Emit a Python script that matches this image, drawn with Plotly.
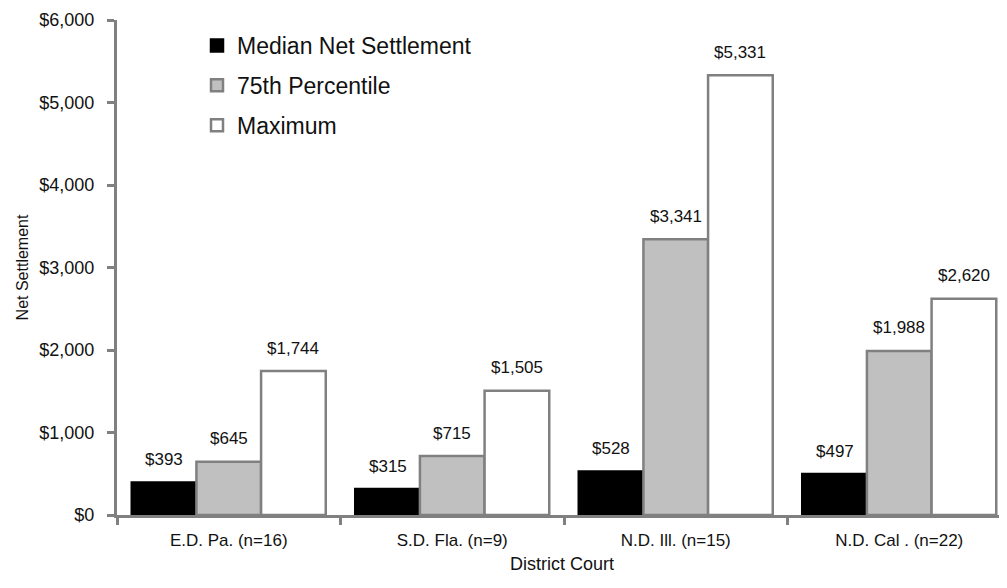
import plotly.graph_objects as go

courts = ["E.D. Pa. (n=16)", "S.D. Fla. (n=9)", "N.D. Ill. (n=15)", "N.D. Cal . (n=22)"]
median_vals = [393, 315, 528, 497]
p75_vals = [645, 715, 3341, 1988]
max_vals = [1744, 1505, 5331, 2620]
series_names = ["Median Net Settlement", "75th Percentile", "Maximum"]
y_ticks = [0, 1000, 2000, 3000, 4000, 5000, 6000]
y_tick_text = [f"${v:,}" for v in y_ticks]

FONT = "Liberation Sans, Arial, sans-serif"
GRAY = "#808080"
TXT = "#111111"

fills = ["#000000", "#c0c0c0", "#ffffff"]
edges = ["#000000", GRAY, GRAY]
series = [median_vals, p75_vals, max_vals]

# page body has an 8px default margin: figure is laid out in its own frame
OFF = 8
W, H = 1007 - OFF, 588 - OFF
ml, mr, mt, mb = 117 - OFF, 0, 20 - OFF, 73
cat_px = 223.5
x_range = [-0.5, -0.5 + (W - ml - mr) / cat_px]
bargap = 0.132
bar_px = cat_px * (1 - bargap) / 3

fig = go.Figure()
for i, (name, vals) in enumerate(zip(series_names, series)):
    fig.add_trace(go.Bar(
        name=name, x=courts, y=vals,
        marker=dict(color=fills[i], line=dict(color=edges[i], width=2.5)),
        legendgroup=f"g{i}",
        cliponaxis=False,
    ))
    for c, v in zip(courts, vals):
        fig.add_annotation(
            x=c, y=v, text=f"${v:,}", showarrow=False,
            xshift=(i - 1) * bar_px, yshift=23, yanchor="middle",
            font=dict(family=FONT, size=17, color=TXT),
        )

fig.update_layout(
    width=W, height=H,
    margin=dict(l=ml, r=mr, t=mt, b=mb, pad=0, autoexpand=False),
    paper_bgcolor="white", plot_bgcolor="white",
    barmode="group", bargap=bargap, bargroupgap=0,
    font=dict(family=FONT, size=17, color=TXT),
    showlegend=True,
    legend=dict(
        x=(197 - 117) / (W - ml - mr), y=1 - (24 - 20) / (H - mt - mb),
        xanchor="left", yanchor="top",
        font=dict(family=FONT, size=23, color=TXT),
        bgcolor="rgba(0,0,0,0)", tracegroupgap=7, itemwidth=30,
    ),
    xaxis=dict(
        type="category", range=x_range, showgrid=False, zeroline=False, automargin=False,
        showline=True, linecolor=GRAY, linewidth=3,
        ticks="outside", tickson="boundaries", ticklen=7, tickwidth=3, tickcolor=GRAY,
        tickfont=dict(family=FONT, size=17, color=TXT), ticklabelstandoff=8,
        title=dict(text="District Court", font=dict(family=FONT, size=18, color=TXT), standoff=8),
    ),
    yaxis=dict(
        range=[0, 6000], tickmode="array", tickvals=y_ticks, ticktext=y_tick_text,
        showgrid=False, zeroline=False, automargin=False,
        showline=True, linecolor=GRAY, linewidth=3,
        ticks="outside", ticklen=7, tickwidth=3, tickcolor=GRAY,
        tickfont=dict(family=FONT, size=18, color=TXT), ticklabelstandoff=9,
        title=dict(text="Net Settlement", font=dict(family=FONT, size=16, color=TXT), standoff=7),
    ),
    xaxis2=dict(
        overlaying="x", range=x_range, tickvals=[0.5, 1.5, 2.5], showticklabels=False,
        ticks="inside", ticklen=6, tickwidth=3, tickcolor=GRAY, showgrid=False,
        zeroline=False, showline=False, automargin=False,
    ),
    yaxis2=dict(
        overlaying="y", range=[0, 6000], tickvals=y_ticks, showticklabels=False,
        ticks="inside", ticklen=6, tickwidth=3, tickcolor=GRAY, showgrid=False,
        zeroline=False, showline=False, automargin=False,
    ),
)

fig.write_html("out.html")
